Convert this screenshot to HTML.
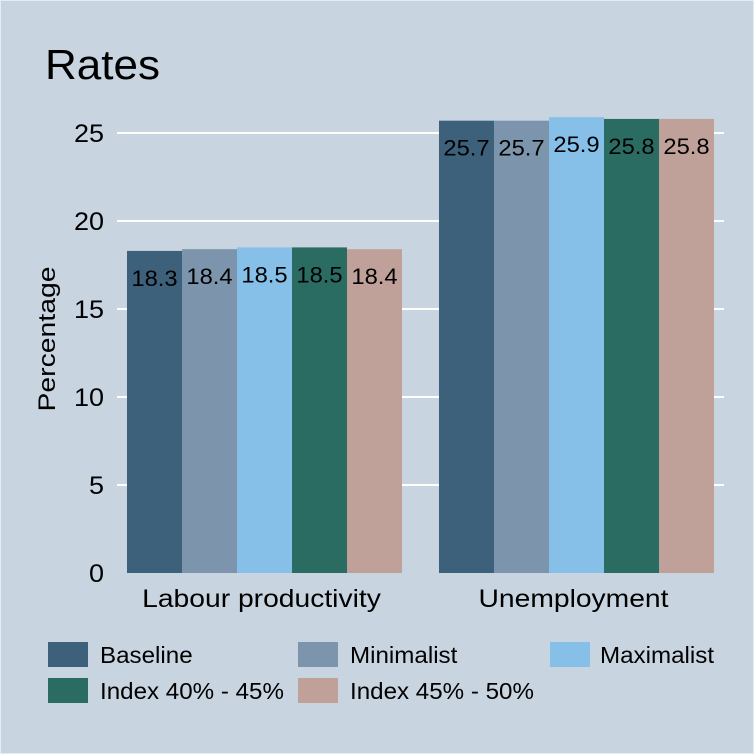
<!DOCTYPE html>
<html><head><meta charset="utf-8"><style>
body{margin:0;background:#fff}
svg{display:block;font-family:"Liberation Sans",sans-serif}
</style></head><body>
<svg width="754" height="754" viewBox="0 0 754 754">
<rect x="0" y="0" width="754" height="754" fill="#c8d4df"/>
<rect x="0.5" y="0.5" width="753" height="753" fill="none" stroke="#e6ecf1"/>
<text x="45" y="79" font-size="42" textLength="115" lengthAdjust="spacingAndGlyphs" fill="#000">Rates</text>
<text transform="translate(55,339) rotate(-90)" text-anchor="middle" font-size="24" textLength="145" lengthAdjust="spacingAndGlyphs">Percentage</text>
<g id="grid"></g><g id="bars"></g><g id="legend"></g>
</svg>
<script>
const categories=["Labour productivity","Unemployment"];
const seriesNames=["Baseline","Minimalist","Maximalist","Index 40% - 45%","Index 45% - 50%"];
const colors=["#3e617b","#7c94ac","#86c0e9","#2b6c62","#c0a19a"];
const baseline=[18.3,25.7];
const minimalist=[18.4,25.7];
const maximalist=[18.5,25.9];
const index4045=[18.5,25.8];
const index4550=[18.4,25.8];
const yTicks=[0,5,10,15,20,25];
const series=[baseline,minimalist,maximalist,index4045,index4550];
const NS="http://www.w3.org/2000/svg";
const y=v=>573-v*17.6;
const groupX=[127,439],bw=55;
function mk(tag,attrs,parent,text){const e=document.createElementNS(NS,tag);for(const k in attrs)e.setAttribute(k,attrs[k]);if(text!==undefined)e.textContent=text;parent.appendChild(e);return e;}
function widen(t,f){const w=t.getComputedTextLength();t.setAttribute('textLength',w*f);t.setAttribute('lengthAdjust','spacingAndGlyphs');}
const grid=document.getElementById('grid');
yTicks.forEach(t=>{
  if(t>0){const l=mk('line',{x1:117,x2:724,y1:y(t),y2:y(t),stroke:'#fff','stroke-width':2},grid);
  
  }
  const tx=mk('text',{x:104,y:y(t)+9,'text-anchor':'end','font-size':25},grid,String(t));
  
  
  widen(tx,1.08);
});
const bars=document.getElementById('bars');
categories.forEach((c,ci)=>{
  series.forEach((s,si)=>{
    const v=s[ci],x=groupX[ci]+si*bw;
    const r=mk('rect',{x:x,y:y(v),width:bw,height:y(0)-y(v),fill:colors[si]},bars);
    
    
    const t=mk('text',{x:x+bw/2,y:y(v)+35,'text-anchor':'middle','font-size':22},bars,v.toFixed(1));
    
    
    widen(t,1.08);
  });
  const cl=mk('text',{x:groupX[ci]+bw*2.5-3,y:607,'text-anchor':'middle','font-size':25},bars,c);
  
  
  widen(cl,1.13);
});
const leg=document.getElementById('legend');
const lpos=[[48,642],[298,642],[550,642],[48,678],[298,678]];
seriesNames.forEach((n,i)=>{
  const [lx,ly]=lpos[i];
  const sw=mk('rect',{x:lx,y:ly,width:40,height:25,fill:colors[i]},leg);
  
  
  const t=mk('text',{x:i==2?600:lx+52,y:ly+21,'font-size':23},leg,n);
  
  
  widen(t,1.05);
});
</script>
</body></html>
